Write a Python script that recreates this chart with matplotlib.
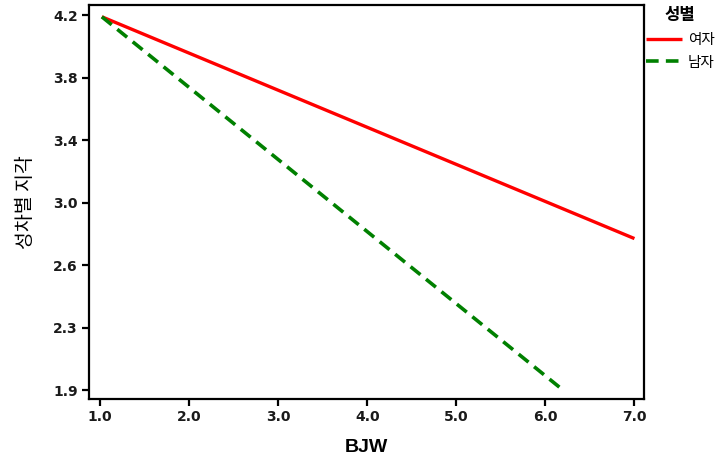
import numpy as np
import matplotlib
matplotlib.use("Agg")
from matplotlib import pyplot as plt

# data
female_x = [1.02, 7.0]
female_y = [4.19, 2.83]
male_x = [1.02, 6.2]
male_y = [4.19, 1.90]

x_ticks = [1.0, 2.0, 3.0, 4.0, 5.0, 6.0, 7.0]
y_tick_labels = ["1.9", "2.3", "2.6", "3.0", "3.4", "3.8", "4.2"]

plt.rcParams['font.family'] = ['Liberation Sans', 'Noto Sans CJK KR', 'DejaVu Sans']
kr = ['Noto Sans CJK KR', 'DejaVu Sans']

fig = plt.figure(figsize=(7.22, 4.59), dpi=100)
ax = fig.add_axes([0.1233, 0.131, 0.769, 0.858])

ax.plot(female_x, female_y, color="#ff0000", lw=2.4, solid_capstyle="butt", label="여자")
ax.plot(male_x, male_y, color="#008000", lw=2.6, dashes=(3.5, 2.0), label="남자")

ax.set_xlim(0.876, 7.11)
ax.set_ylim(1.847, 4.262)
ax.set_xticks(x_ticks)
ax.set_xticklabels(["%.1f" % v for v in x_ticks])
ax.set_yticks(np.linspace(1.9, 4.2, 7))
ax.set_yticklabels(y_tick_labels)

for lab in ax.get_xticklabels() + ax.get_yticklabels():
    lab.set_family("DejaVu Sans")
    lab.set_fontweight("bold")
    lab.set_fontsize(10)
    lab.set_color("#1a1a1a")
ax.tick_params(length=5, width=1.6, pad=3)
for s in ax.spines.values():
    s.set_linewidth(1.6)

ax.set_xlabel("BJW", fontsize=14, fontweight="bold", labelpad=11)
ax.set_ylabel("성차별 지각", fontsize=14, family=kr, labelpad=12)

handles, labels = ax.get_legend_handles_labels()
leg = fig.legend(handles, labels, loc="upper left", bbox_to_anchor=(646 / 722, 1 - 6 / 459),
                 frameon=False, title="성별", fontsize=10.5, handlelength=2.5,
                 handletextpad=0.35, labelspacing=0.6, borderpad=0, borderaxespad=0)
leg.get_title().set_fontweight("bold")
leg.get_title().set_fontsize(12)
leg.get_title().set_family(kr)
for t in leg.get_texts():
    t.set_family(kr)

fig.savefig("out.png", dpi=100)
